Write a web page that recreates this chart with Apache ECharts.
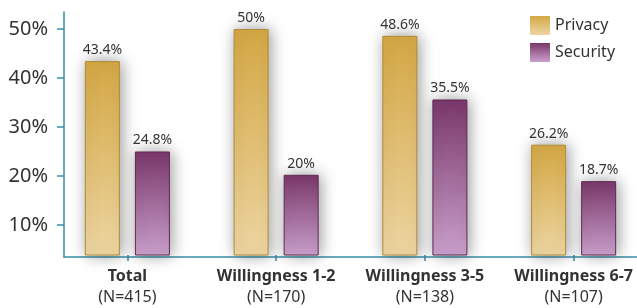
<!DOCTYPE html>
<html>
<head>
<meta charset="utf-8">
<script src="https://cdn.jsdelivr.net/npm/echarts@6/dist/echarts.min.js"></script>
<style>
  html, body { margin: 0; padding: 0; background: #fff; overflow: hidden; }
  #chart { width: 648px; height: 308px; }
</style>
</head>
<body>
<div id="chart"></div>
<script>
// data
var categories = ['Total', 'Willingness 1-2', 'Willingness 3-5', 'Willingness 6-7'];
var sampleSizes = ['(N=415)', '(N=170)', '(N=138)', '(N=107)'];
var privacy = [43.4, 50, 48.6, 26.2];
var security = [24.8, 20, 35.5, 18.7];
var yTicks = [10, 20, 30, 40, 50];

var font = '"Noto Sans", "Open Sans", sans-serif';
var axisColor = '#3a8ea6';

var privacyFill = new echarts.graphic.LinearGradient(0, 0, 0, 1, [
    { offset: 0, color: '#d4a844' },
    { offset: 1, color: '#eed6a2' }
]);
var securityFill = new echarts.graphic.LinearGradient(0, 0, 0, 1, [
    { offset: 0, color: '#7a386a' },
    { offset: 1, color: '#caa0cc' }
]);

var myChart = echarts.init(document.getElementById('chart'));

var barStyle = function (fill, edge) {
    return {
        color: fill,
        borderColor: edge,
        borderWidth: 1,
        shadowColor: 'rgba(0,0,0,0.4)',
        shadowBlur: 16,
        shadowOffsetX: 2
    };
};

var barLabel = {
    show: true,
    position: 'top',
    distance: 4,
    color: '#333',
    fontFamily: font,
    fontSize: 14,
    formatter: function (p) { return p.value + '%'; }
};

option = {
    animation: false,
    legend: {
        orient: 'vertical',
        left: 525,
        top: 11,
        itemWidth: 20,
        itemHeight: 19,
        itemGap: 8,
        icon: 'rect',
        itemStyle: { borderWidth: 0, shadowBlur: 0 },
        textStyle: { color: '#333', fontFamily: font, fontSize: 16 },
        data: ['Privacy', 'Security']
    },
    grid: [
        { left: 53, width: 595, top: 12, height: 245 },
        { left: 64, right: 0, top: 12, height: 245 }
    ],
    xAxis: [
        {
            type: 'category',
            gridIndex: 0,
            data: categories,
            axisLine: { show: false },
            axisTick: { show: true, alignWithLabel: true, length: 6, lineStyle: { color: axisColor, width: 1.5 } },
            axisLabel: {
                margin: 11,
                interval: 0,
                color: '#333',
                fontFamily: font,
                fontSize: 16,
                lineHeight: 21,
                formatter: function (v, i) {
                    return '{b|' + v + '}\n' + sampleSizes[i];
                },
                rich: {
                    b: { fontWeight: 'bold', fontFamily: font, fontSize: 16, color: '#333', lineHeight: 21 }
                }
            }
        },
        {
            type: 'value',
            gridIndex: 1,
            min: 0,
            max: 1,
            axisLine: { show: true, onZero: false, lineStyle: { color: axisColor, width: 1.5 } },
            axisTick: { show: false },
            axisLabel: { show: false },
            splitLine: { show: false }
        }
    ],
    yAxis: [
        {
            type: 'value',
            gridIndex: 0,
            min: 3.5,
            max: 53.5,
            show: false
        },
        {
            type: 'value',
            gridIndex: 1,
            min: 3.5,
            max: 53.5,
            axisLine: { show: true, lineStyle: { color: axisColor, width: 1.5 } },
            axisTick: { show: true, length: 7, customValues: yTicks, lineStyle: { color: axisColor, width: 1.5 } },
            axisLabel: {
                customValues: yTicks,
                margin: 16,
                color: '#333',
                fontFamily: font,
                fontSize: 20,
                formatter: '{value}%'
            },
            splitLine: { show: false }
        }
    ],
    series: [
        {
            name: 'Privacy',
            type: 'bar',
            xAxisIndex: 0,
            yAxisIndex: 0,
            barWidth: 35,
            barGap: '43%',
            itemStyle: barStyle(privacyFill, '#b08a35'),
            label: barLabel,
            data: privacy
        },
        {
            name: 'Security',
            type: 'bar',
            xAxisIndex: 0,
            yAxisIndex: 0,
            barWidth: 35,
            barGap: '43%',
            itemStyle: barStyle(securityFill, '#5e2a52'),
            label: barLabel,
            data: security
        }
    ]
};
myChart.setOption(option);
</script>
</body>
</html>
